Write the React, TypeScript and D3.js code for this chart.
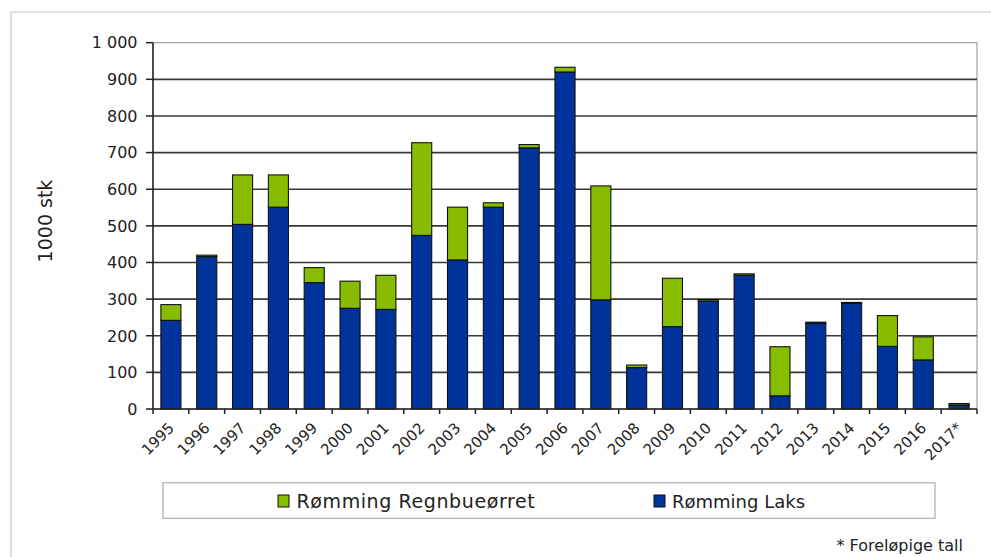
import React from "react";
import * as d3 from "d3";

const years = ["1995","1996","1997","1998","1999","2000","2001","2002","2003","2004","2005","2006","2007","2008","2009","2010","2011","2012","2013","2014","2015","2016","2017*"];
const laks = [242, 416, 504, 551, 345, 275, 272, 474, 407, 551, 713, 920, 298, 113, 225, 295, 365, 36, 234, 288, 171, 134, 11];
const regnbue = [43, 4, 135, 88, 41, 74, 93, 253, 144, 12, 9, 13, 311, 7, 132, 4, 4, 134, 3, 3, 84, 63, 4];
const yTicks = [0, 100, 200, 300, 400, 500, 600, 700, 800, 900, 1000];
const seriesNames = ["Rømming Regnbueørret", "Rømming Laks"];

const W = 991, H = 557;
const left = 153, right = 977, top = 42.7, bottom = 409;
const BLUE = "#003399";
const GREEN = "#88bc00";
const FONT = "'DejaVu Sans', Verdana, sans-serif";

export default function App() {
  const x = d3.scaleBand<string>().domain(years).range([left, right]).paddingInner(0.44).paddingOuter(0.22);
  const y = d3.scaleLinear().domain([0, 1000]).range([bottom, top]);
  const fmt = (v: number) => (v >= 1000 ? d3.format(",")(v).replace(",", " ") : String(v));
  const step = x.step();

  return (
    <svg width={W} height={H} style={{ position: "absolute", left: 0, top: 0, background: "#fff" }} fontFamily={FONT}>
      {/* outer frame */}
      <line x1={11} y1={12} x2={W} y2={12} stroke="#c8c8c8" strokeWidth={1.2} />
      <line x1={11} y1={12} x2={11} y2={H} stroke="#c8c8c8" strokeWidth={1.2} />

      {/* plot border */}
      <rect x={left} y={top} width={right - left} height={bottom - top} fill="none" stroke="#a8a8a8" strokeWidth={1.3} />

      {/* gridlines */}
      {yTicks.filter(t => t > 0 && t < 1000).map(t => (
        <line key={"g" + t} x1={left} x2={right} y1={y(t)} y2={y(t)} stroke="#383838" strokeWidth={1.6} />
      ))}

      {/* bars */}
      {years.map((yr, i) => {
        const bx = x(yr)!;
        const bw = x.bandwidth();
        const y0 = y(0), y1 = y(laks[i]), y2 = y(laks[i] + regnbue[i]);
        return (
          <g key={yr}>
            <rect x={bx} y={y1} width={bw} height={y0 - y1} fill={BLUE} stroke="#111" strokeWidth={1.1} />
            <rect x={bx} y={y2} width={bw} height={y1 - y2} fill={GREEN} stroke="#111" strokeWidth={1.1} />
          </g>
        );
      })}

      {/* y axis */}
      <line x1={left} x2={left} y1={top} y2={bottom} stroke="#222" strokeWidth={1.5} />
      {yTicks.map(t => (
        <g key={"t" + t}>
          <line x1={left - 7} x2={left} y1={y(t)} y2={y(t)} stroke="#222" strokeWidth={1.5} />
          <text x={137.5} y={y(t)} dy="0.36em" textAnchor="end" fontSize={16} fill="#222">{fmt(t)}</text>
        </g>
      ))}

      {/* x axis */}
      <line x1={left} x2={right} y1={bottom} y2={bottom} stroke="#222" strokeWidth={1.5} />
      {d3.range(years.length + 1).map(k => {
        const tx = left + k * step;
        return <line key={"xt" + k} x1={tx} x2={tx} y1={bottom} y2={bottom + 5} stroke="#222" strokeWidth={1.5} />;
      })}
      {years.map(yr => {
        const cx = x(yr)! + x.bandwidth() / 2;
        return (
          <text key={"xl" + yr} transform={`translate(${cx + 4},${bottom + 20}) rotate(-45)`} textAnchor="end" fontSize={15} fill="#222">{yr}</text>
        );
      })}

      {/* y title */}
      <text transform="translate(52,221) rotate(-90)" textAnchor="middle" fontSize={19} fill="#222">1000 stk</text>

      {/* legend */}
      <rect x={163} y={482.7} width={772} height={35.6} fill="#fff" stroke="#bdbdbd" strokeWidth={1.5} />
      <rect x={278} y={495} width={11} height={12} fill={GREEN} stroke="#111" strokeWidth={1} />
      <text x={296.5} y={507.5} fontSize={19} fill="#222" letterSpacing={0.6}>{seriesNames[0]}</text>
      <rect x={654} y={495} width={11} height={12} fill={BLUE} stroke="#111" strokeWidth={1} />
      <text x={672} y={507.5} fontSize={18} fill="#222">{seriesNames[1]}</text>

      {/* footnote */}
      <text x={963} y={551} textAnchor="end" fontSize={16} fill="#222">* Foreløpige tall</text>
    </svg>
  );
}
